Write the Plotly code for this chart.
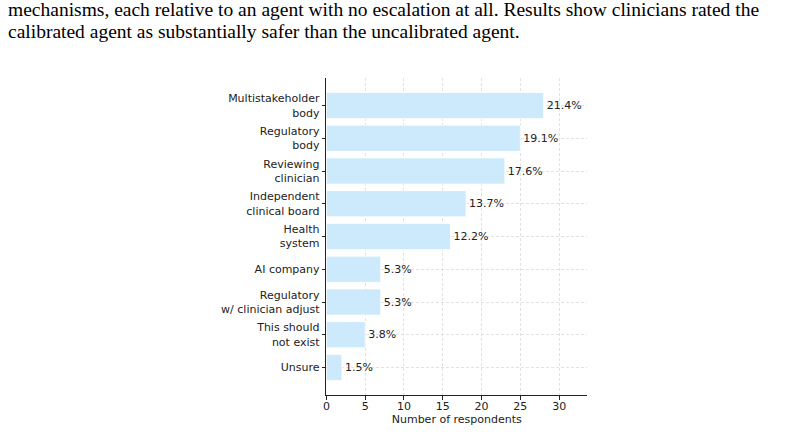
import plotly.graph_objects as go

categories = [
    "Multistakeholder<br>body",
    "Regulatory<br>body",
    "Reviewing<br>clinician",
    "Independent<br>clinical board",
    "Health<br>system",
    "AI company",
    "Regulatory<br>w/ clinician adjust",
    "This should<br>not exist",
    "Unsure",
]
counts = [28, 25, 23, 18, 16, 7, 7, 5, 2]
total = sum(counts)
labels = [f"{c / total * 100:.1f}%" for c in counts]
xticks = [0, 5, 10, 15, 20, 25, 30]
caption_lines = [
    "mechanisms, each relative to an agent with no escalation at all. Results show clinicians rated the",
    "calibrated agent as substantially safer than the uncalibrated agent.",
]

pos = list(range(len(categories)))
font_family = "DejaVu Sans"
grid = dict(showgrid=True, gridcolor="#e2e2e2", gridwidth=1, griddash="3px,2px")

fig = go.Figure()
fig.add_trace(go.Bar(
    x=counts, y=pos, orientation="h",
    width=0.8,
    marker=dict(color="#cdeafd", line=dict(color="white", width=0.8)),
    text=labels, textposition="outside",
    textfont=dict(family=font_family, size=11, color="#222"),
    cliponaxis=False,
))

fig.update_layout(
    width=804, height=432,
    margin=dict(l=0, r=0, t=0, b=0),
    paper_bgcolor="white", plot_bgcolor="white",
    showlegend=False,
    font=dict(family=font_family, size=11, color="#222"),
    xaxis=dict(
        domain=[324 / 804, 586 / 804],
        range=[0, max(counts) * 1.2],
        tickvals=xticks, ticktext=[str(t) for t in xticks],
        ticks="outside", ticklen=3.5, tickwidth=1, tickcolor="#222",
        ticklabelstandoff=-3,
        showline=True, linecolor="#222", linewidth=1.2,
        zeroline=False,
        title=dict(text="Number of respondents", standoff=0, font=dict(size=11)),
        tickfont=dict(size=11),
        **grid,
    ),
    yaxis=dict(
        domain=[1 - 395 / 432, 1 - 78 / 432],
        range=[len(categories) - 1 + 0.84, -0.84],
        tickvals=pos, ticktext=categories,
        ticks="outside", ticklen=3.5, tickwidth=1, tickcolor="#222",
        showline=True, linecolor="#222", linewidth=1.2,
        zeroline=False,
        tickfont=dict(size=11),
        **grid,
    ),
)

for i, line in enumerate(caption_lines):
    fig.add_annotation(
        text=line, xref="paper", yref="paper",
        x=2 / 804, y=1 - (10 + 21 * i) / 432,
        xanchor="left", yanchor="middle", showarrow=False,
        font=dict(family="Liberation Serif", size=19.5, color="black"),
    )

fig.write_html("out.html")
